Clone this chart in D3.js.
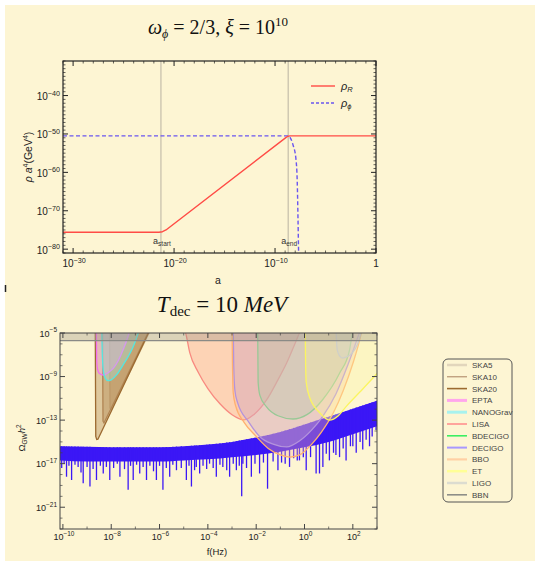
<!DOCTYPE html>
<html><head><meta charset="utf-8">
<script src="https://cdn.jsdelivr.net/npm/d3@7"></script>
<style>body{margin:0;background:#fff}svg{display:block}</style>
</head><body>
<svg id="c" width="535" height="561"></svg>
<script>
// ================= DATA (log10 values) =================
// Panel 1: rho a^4 vs a
const aMajorExp = [-30, -20, -10, 0];
const rhoMajorExp = [-80, -70, -60, -50, -40];
const rhoR_logA = [-31, -21.5, -21.15, -20.8, -8.9, -8.72, -8.5, 0];
const rhoR_logV = [-75.6, -75.6, -75.45, -75.0, -50.9, -50.6, -50.5, -50.5];
const rhoPhi_logA = [-31, -8.7, -8.45, -8.2, -7.93, -7.8, -7.73, -7.66];
const rhoPhi_logV = [-50.5, -50.5, -51.2, -53.0, -56.5, -62.5, -71.4, -82];
const aStartLog = -21.3, aEndLog = -8.7;

// Panel 2: Omega_GW h^2 vs f
const fMajorExp = [-10, -8, -6, -4, -2, 0, 2];
const omegaMajorExp = [-21, -17, -13, -9, -5];
const bbnLevel = -5.7;
const detectorNames = ["SKA5","SKA10","SKA20","EPTA","NANOGrav","LISA","BDECIGO","DECIGO","BBO","ET","LIGO","BBN"];
const ska5_f = [-8.07, -8.06, -8.05, -8.0, -6.43, -6.3];
const ska5_o = [-4.5, -8, -11.9, -12.06, -5, -4.4];
const ska10_f = [-8.36, -8.35, -8.34, -8.3, -6.48, -6.35];
const ska10_o = [-4.5, -9, -13.1, -13.26, -5, -4.4];
const ska20_f = [-8.66, -8.65, -8.64, -8.6, -8.55, -6.35];
const ska20_o = [-4.5, -10, -14.5, -14.78, -14.75, -4.5];
const epta_f = [-8.62, -8.61, -8.6, -8.57, -8.5, -8.33, -8.1, -7.9, -7.7, -7.5, -7.3, -7.2];
const epta_o = [-4.5, -6, -7.5, -8.3, -8.7, -8.87, -8.6, -8.2, -7.5, -6.5, -5.3, -4.5];
const nano_f = [-8.39, -8.38, -8.36, -8.32, -8.25, -8.13, -8.0, -7.78, -7.5, -7.3, -7.1, -6.95, -6.8];
const nano_o = [-4.5, -6, -7.5, -8.6, -9.15, -9.38, -9.3, -8.85, -7.9, -7.17, -6.3, -5.45, -4.5];
const lisa_f = [-5.0, -4.92, -4.75, -4.4, -4.0, -3.5, -3.0, -2.5, -2.1, -1.57, -1.1, -0.74, -0.4, -0.21, -0.1];
const lisa_o = [-4.5, -5, -6.8, -8.6, -10.1, -11.5, -12.5, -12.98, -12.5, -11.15, -9.3, -7.75, -6, -5, -4.5];
const bdecigo_f = [-1.94, -1.93, -1.92, -1.85, -1.58, -1.1, -0.48, 0.1, 0.74, 1.45, 1.86, 1.98, 2.03];
const bdecigo_o = [-4.5, -7, -9.5, -10.7, -11.76, -12.6, -12.9, -12.5, -11.15, -8.7, -6.6, -5, -4.5];
const decigo_f = [-2.95, -2.93, -2.88, -2.77, -2.3, -1.86, -1.3, -0.74, -0.2, 0.3, 0.74, 1.3, 1.8, 2.27, 2.35];
const decigo_o = [-4.5, -8, -10.3, -11.4, -13.2, -14.5, -15.2, -15.46, -14.9, -13.9, -12.7, -10.6, -7.9, -5, -4.5];
const bbo_f = [-3.0, -2.98, -2.95, -2.85, -2.5, -2.0, -1.5, -1.0, -0.6, -0.2, 0.3, 0.7, 1.2, 1.6, 2.0, 2.3, 2.4];
const bbo_o = [-4.5, -8, -10.5, -11.7, -13.2, -14.5, -15.6, -16.2, -16.4, -16.2, -15.2, -14.1, -12.3, -10.3, -7.8, -5.5, -4.5];
const et_f = [0.03, 0.04, 0.07, 0.21, 0.62, 1.03, 1.4, 1.72, 2.3, 2.89, 3.3];
const et_o = [-4.5, -7, -9.5, -10.9, -12.3, -13.0, -12.6, -11.76, -10.4, -9.0, -8.0];
const ligo_f = [1.3, 1.31, 1.35, 1.45, 1.57, 1.75, 1.98, 2.2, 2.34, 2.4];
const ligo_o = [-4.5, -5, -6.5, -7.1, -7.3, -7.2, -6.83, -6, -5, -4.5];

// GW spectrum: upper envelope, lower edge of the dense band, and deep dips
const spec_f = [-10.2, -9, -8, -7, -6, -5, -4, -3, -2, -1, 0, 1, 2, 3.1];
const spec_top = [-15.4, -15.45, -15.5, -15.5, -15.5, -15.4, -15.25, -15.0, -14.6, -14.1, -13.4, -12.7, -11.95, -11.15];
const spec_band = [-16.7, -16.8, -16.8, -16.8, -16.8, -16.7, -16.6, -16.4, -16.2, -15.9, -15.5, -15.0, -14.3, -13.5];
const dip_f = [-10.05,-9.95,-9.85,-9.75,-9.64,-9.5,-9.37,-9.25,-9.16,-9.0,-8.88,-8.75,-8.61,-8.45,-8.33,-8.2,-8.06,-7.9,-7.75,-7.64,-7.45,-7.3,-7.2,-7.09,-6.95,-6.82,-6.68,-6.54,-6.4,-6.25,-6.13,-6.0,-5.86,-5.72,-5.58,-5.45,-5.3,-5.1,-4.89,-4.78,-4.68,-4.55,-4.48,-4.34,-4.2,-4.05,-3.93,-3.78,-3.65,-3.5,-3.38,-3.22,-3.1,-2.95,-2.82,-2.7,-2.6,-2.55,-2.4,-2.2,-2.05,-1.86,-1.7,-1.53,-1.3,-1.1,-0.95,-0.8,-0.62,-0.45,-0.3,-0.21,-0.05,0.07,0.25,0.48,0.62,0.76,0.9,1.03,1.2,1.3,1.45,1.6,1.72,1.9,2.0,2.14,2.3,2.41,2.55,2.69,2.8,2.96];
const dip_o = [-17.4,-17.0,-18.2,-17.2,-18.5,-17.1,-17.3,-17.8,-18.8,-17.3,-19.1,-17.5,-18.5,-17.2,-17.9,-17.3,-18.5,-17.4,-17.0,-18.2,-17.5,-19.4,-17.2,-18.5,-17.1,-17.9,-17.3,-18.5,-17.2,-17.7,-18.5,-17.2,-19.4,-17.4,-18.2,-17.1,-17.6,-17.4,-18.5,-17.2,-19.1,-17.6,-17.3,-17.9,-17.2,-17.5,-17.0,-17.4,-18.2,-17.1,-17.3,-17.6,-18.2,-17.0,-17.6,-17.2,-20.0,-17.0,-17.4,-18.2,-17.0,-17.9,-16.9,-19.3,-16.8,-17.6,-16.9,-17.0,-17.3,-16.5,-16.7,-16.7,-16.4,-17.6,-16.4,-17.9,-17.9,-17.3,-16.1,-16.7,-16.0,-16.2,-16.4,-15.6,-16.7,-15.4,-15.4,-16.0,-15.0,-15.7,-14.8,-15.4,-14.5,-13.9];

// ================= DRAWING =================
const P = v => Math.pow(10, v);
const svg = d3.select('#c');
const BG = '#fdf5d3';
const SANS = "'Liberation Sans', Arial, sans-serif";
const SERIF = "'Liberation Serif', 'Times New Roman', serif";
svg.append('rect').attr('width', 535).attr('height', 561).attr('fill', BG);
svg.append('rect').attr('width', 535).attr('height', 5).attr('fill', '#fff');
svg.append('rect').attr('width', 5).attr('height', 561).attr('fill', '#fff');
svg.append('line').attr('x1', 5.5).attr('x2', 5.5).attr('y1', 285).attr('y2', 292).attr('stroke', '#222').attr('stroke-width', 1.5);

function expLabel(g, x, y, e, anchor, fs, plainOne) {
  const t = g.append('text').attr('x', x).attr('y', y).attr('text-anchor', anchor)
    .attr('font-size', fs).attr('font-family', SANS).attr('fill', '#222');
  if (e === 0 && plainOne) { t.text('1'); return; }
  t.append('tspan').text('10');
  t.append('tspan').attr('font-size', fs * 0.72).attr('dy', -fs * 0.45).text(e < 0 ? '\u2212' + (-e) : String(e));
}
function frame(g, xs, ys, xMaj, xMin, yMaj, yMin, col, sw) {
  const [x0, x1] = xs.range(), [y0, y1] = ys.range(); // y0 bottom, y1 top
  const tk = g.append('g').attr('stroke', col);
  xMaj.forEach(e => { const x = xs(P(e));
    tk.append('line').attr('x1', x).attr('x2', x).attr('y1', y0).attr('y2', y0 - 5).attr('stroke-width', 1);
    tk.append('line').attr('x1', x).attr('x2', x).attr('y1', y1).attr('y2', y1 + 5).attr('stroke-width', 1); });
  xMin.forEach(e => { const x = xs(P(e));
    tk.append('line').attr('x1', x).attr('x2', x).attr('y1', y0).attr('y2', y0 - 2.5).attr('stroke-width', 0.7);
    tk.append('line').attr('x1', x).attr('x2', x).attr('y1', y1).attr('y2', y1 + 2.5).attr('stroke-width', 0.7); });
  yMaj.forEach(e => { const y = ys(P(e));
    tk.append('line').attr('x1', x0).attr('x2', x0 + 5).attr('y1', y).attr('y2', y).attr('stroke-width', 1);
    tk.append('line').attr('x1', x1).attr('x2', x1 - 5).attr('y1', y).attr('y2', y).attr('stroke-width', 1); });
  yMin.forEach(e => { const y = ys(P(e));
    tk.append('line').attr('x1', x0).attr('x2', x0 + 2.5).attr('y1', y).attr('y2', y).attr('stroke-width', 0.7);
    tk.append('line').attr('x1', x1).attr('x2', x1 - 2.5).attr('y1', y).attr('y2', y).attr('stroke-width', 0.7); });
  g.append('rect').attr('x', x0).attr('y', y1).attr('width', x1 - x0).attr('height', y0 - y1)
    .attr('fill', 'none').attr('stroke', col).attr('stroke-width', sw);
}
const range = (a, b) => d3.range(a, b + 1);

// ---------- Panel 1 ----------
const g1 = svg.append('g');
const x1 = d3.scaleLog().domain([1e-31, 1]).range([63, 376]);
const y1 = d3.scaleLog().domain([1e-81, 1e-31]).range([253, 61]);
g1.append('clipPath').attr('id', 'cp1').append('rect').attr('x', 63).attr('y', 61).attr('width', 313).attr('height', 192);

const t1 = g1.append('text').attr('x', 218).attr('y', 34).attr('text-anchor', 'middle')
  .attr('font-family', SERIF).attr('font-size', 20).attr('fill', '#111');
t1.append('tspan').attr('font-style', 'italic').text('ω');
t1.append('tspan').attr('font-style', 'italic').attr('font-size', 12).attr('dy', 4).text('ϕ');
t1.append('tspan').attr('dy', -4).text(' = 2/3, ');
t1.append('tspan').attr('font-style', 'italic').text('ξ');
t1.append('tspan').text(' = 10');
t1.append('tspan').attr('font-size', 13).attr('dy', -8).text('10');

[aStartLog, aEndLog].forEach(v => {
  g1.append('line').attr('x1', x1(P(v))).attr('x2', x1(P(v))).attr('y1', 61).attr('y2', 253)
    .attr('stroke', '#b9b2a2').attr('stroke-width', 1);
});
[[aStartLog, 'start'], [aEndLog, 'end']].forEach(([v, s]) => {
  const t = g1.append('text').attr('x', x1(P(v)) + 1).attr('y', 244).attr('text-anchor', 'middle')
    .attr('font-family', SANS).attr('font-size', 9).attr('fill', '#333');
  t.append('tspan').text('a');
  t.append('tspan').attr('font-size', 6.5).attr('dy', 1.5).text(s);
});

const lineMono = d3.line().x(d => x1(P(d[0]))).y(d => y1(P(d[1]))).curve(d3.curveMonotoneX);
const lineLin = d3.line().x(d => x1(P(d[0]))).y(d => y1(P(d[1])));
g1.append('path').attr('clip-path', 'url(#cp1)')
  .attr('d', lineMono(rhoPhi_logA.map((a, i) => [a, rhoPhi_logV[i]])))
  .attr('fill', 'none').attr('stroke', '#6a55f0').attr('stroke-width', 1.4).attr('stroke-dasharray', '4,2.5');
g1.append('path').attr('clip-path', 'url(#cp1)')
  .attr('d', lineLin(rhoR_logA.map((a, i) => [a, rhoR_logV[i]])))
  .attr('fill', 'none').attr('stroke', '#ff4b45').attr('stroke-width', 1.4).attr('stroke-linejoin', 'round');

frame(g1, x1, y1, aMajorExp, range(-31, 0).filter(e => !aMajorExp.includes(e)),
  rhoMajorExp, range(-81, -31).filter(e => !rhoMajorExp.includes(e)), '#222', 1.2);
aMajorExp.forEach(e => expLabel(g1, x1(P(e)) + (e === 0 ? 0 : 1), 267, e, 'middle', 10, true));
rhoMajorExp.forEach(e => expLabel(g1, 60, y1(P(e)) + 4.5, e, 'end', 10, false));

// legend panel 1
g1.append('line').attr('x1', 311).attr('x2', 335).attr('y1', 86).attr('y2', 86).attr('stroke', '#ff4b45').attr('stroke-width', 1.4);
g1.append('line').attr('x1', 311).attr('x2', 335).attr('y1', 103).attr('y2', 103).attr('stroke', '#6a55f0').attr('stroke-width', 1.4).attr('stroke-dasharray', '3,2');
[['R', 90], ['ϕ', 107]].forEach(([s, y]) => {
  const t = g1.append('text').attr('x', 341).attr('y', y).attr('font-family', SANS).attr('font-size', 11).attr('font-style', 'italic').attr('fill', '#222');
  t.append('tspan').text('ρ');
  t.append('tspan').attr('font-size', 7.5).attr('dy', 2).text(s);
});
// axis labels panel 1
const yl1 = g1.append('text').attr('transform', 'translate(32,157) rotate(-90)').attr('text-anchor', 'middle')
  .attr('font-family', SANS).attr('font-size', 10.5).attr('fill', '#222');
yl1.append('tspan').attr('font-style', 'italic').text('ρ a');
yl1.append('tspan').attr('font-size', 7).attr('dy', -4).text('4');
yl1.append('tspan').attr('dy', 4).text('(GeV');
yl1.append('tspan').attr('font-size', 7).attr('dy', -4).text('4');
yl1.append('tspan').attr('dy', 4).text(')');
g1.append('text').attr('x', 218).attr('y', 284).attr('text-anchor', 'middle').attr('font-family', SANS)
  .attr('font-size', 10.5).attr('fill', '#222').text('a');

// ---------- Panel 2 ----------
const g2 = svg.append('g');
const x2 = d3.scaleLog().domain([P(-10.12), P(3)]).range([60, 377]);
const y2 = d3.scaleLog().domain([1e-23, 1e-5]).range([529, 333]);
g2.append('clipPath').attr('id', 'cp2').append('rect').attr('x', 60).attr('y', 333).attr('width', 317).attr('height', 196);

const t2 = g2.append('text').attr('x', 222).attr('y', 312).attr('text-anchor', 'middle')
  .attr('font-family', SERIF).attr('font-size', 23).attr('fill', '#111');
t2.append('tspan').attr('font-style', 'italic').text('T');
t2.append('tspan').attr('font-size', 15).attr('dy', 4).text('dec');
t2.append('tspan').attr('dy', -4).text(' = 10 ');
t2.append('tspan').attr('font-style', 'italic').text('MeV');

const plot2 = g2.append('g').attr('clip-path', 'url(#cp2)');
// spectrum
const topInterp = d3.scaleLinear().domain(spec_f).range(spec_top);
const specArea = d3.area().x(d => x2(P(d[0]))).y0(d => y2(P(d[2]))).y1(d => y2(P(d[1]))).curve(d3.curveMonotoneX);
const SPEC = '#3b17f6';
plot2.append('path').attr('d', specArea(spec_f.map((f, i) => [f, spec_top[i], spec_band[i]]))).attr('fill', SPEC);
plot2.append('g').selectAll('line').data(dip_f.map((f, i) => [f, dip_o[i]])).join('line')
  .attr('x1', d => x2(P(d[0]))).attr('x2', d => x2(P(d[0])))
  .attr('y1', d => y2(P(topInterp(d[0])))).attr('y2', d => y2(P(d[1])))
  .attr('stroke', SPEC).attr('stroke-width', 1.3);

// detector sensitivity regions
const detectors = [
  { f: ska5_f, o: ska5_o, stroke: '#d8c49e', fill: '#c9a878', lin: true },
  { f: ska10_f, o: ska10_o, stroke: '#b89064', fill: '#b08450', lin: true },
  { f: ska20_f, o: ska20_o, stroke: '#9c6a30', fill: '#a06c30', lin: true },
  { f: epta_f, o: epta_o, stroke: '#f26ef0', fill: '#f59ae8' },
  { f: nano_f, o: nano_o, stroke: '#55e6e0', fill: '#9eeeee' },
  { f: lisa_f, o: lisa_o, stroke: '#f88a80', fill: '#ff8f78' },
  { f: bdecigo_f, o: bdecigo_o, stroke: '#48ec6c', fill: '#7ee890' },
  { f: decigo_f, o: decigo_o, stroke: '#8f80ff', fill: '#a898f0' },
  { f: bbo_f, o: bbo_o, stroke: '#ffb070', fill: '#ffb894' },
  { f: et_f, o: et_o, stroke: '#fbf560', fill: '#fbf7a0' },
  { f: ligo_f, o: ligo_o, stroke: '#cfcfc8', fill: '#d4d4cc' }
];
detectors.forEach(d => {
  const pts = d.f.map((f, i) => [f, d.o[i]]);
  const cv = d.lin ? d3.curveLinear : d3.curveMonotoneX;
  const ar = d3.area().x(p => x2(P(p[0]))).y0(y2(P(-4))).y1(p => y2(P(p[1]))).curve(cv);
  const ln = d3.line().x(p => x2(P(p[0]))).y(p => y2(P(p[1]))).curve(cv);
  plot2.append('path').attr('d', ar(pts)).attr('fill', d.fill).attr('fill-opacity', 0.33);
  plot2.append('path').attr('d', ln(pts)).attr('fill', 'none').attr('stroke', d.stroke).attr('stroke-width', 1.3);
});
// BBN band
plot2.append('rect').attr('x', 60).attr('width', 317).attr('y', 333).attr('height', y2(P(bbnLevel)) - 333)
  .attr('fill', '#9a9486').attr('fill-opacity', 0.35);
plot2.append('line').attr('x1', 60).attr('x2', 377).attr('y1', y2(P(bbnLevel))).attr('y2', y2(P(bbnLevel)))
  .attr('stroke', '#8a8a86').attr('stroke-width', 1.2);

frame(g2, x2, y2, fMajorExp, range(-9, 3).filter(e => !fMajorExp.includes(e)),
  omegaMajorExp, range(-23, -5).filter(e => !omegaMajorExp.includes(e)), '#444', 1);
fMajorExp.forEach(e => expLabel(g2, x2(P(e)) + 1, 540, e, 'middle', 9, false));
omegaMajorExp.forEach(e => expLabel(g2, 57, y2(P(e)) + 3.5, e, 'end', 9, false));

const yl2 = g2.append('text').attr('transform', 'translate(25,438) rotate(-90)').attr('text-anchor', 'middle')
  .attr('font-family', SANS).attr('font-size', 9.5).attr('fill', '#222');
yl2.append('tspan').text('Ω');
yl2.append('tspan').attr('font-size', 6.5).attr('dy', 2).text('GW');
yl2.append('tspan').attr('dy', -2).attr('font-style', 'italic').text('h');
yl2.append('tspan').attr('font-size', 6.5).attr('dy', -4).text('2');
g2.append('text').attr('x', 217).attr('y', 555).attr('text-anchor', 'middle').attr('font-family', SANS)
  .attr('font-size', 9.5).attr('fill', '#222').text('f(Hz)');

// legend panel 2
const legendColors = ['#e2d6bc', '#a88060', '#9c6a30', '#ffa6ec', '#a8f2ee', '#ffa49c', '#3cee62', '#a898ff', '#ffd0a4', '#ffff96', '#dcdcd0', '#8e8e88'];
const legendWidths = [2.5, 1, 1.6, 3, 3, 2, 1.6, 2, 2.2, 2.5, 2.5, 1.6];
const lg = g2.append('g');
lg.append('rect').attr('x', 443).attr('y', 359).attr('width', 69).attr('height', 143).attr('rx', 5)
  .attr('fill', 'none').attr('stroke', '#555').attr('stroke-width', 1);
detectorNames.forEach((n, i) => {
  const y = 365 + i * 11.8;
  lg.append('line').attr('x1', 447).attr('x2', 467).attr('y1', y).attr('y2', y)
    .attr('stroke', legendColors[i]).attr('stroke-width', legendWidths[i]);
  lg.append('text').attr('x', 472).attr('y', y + 3).attr('font-family', SANS).attr('font-size', 8)
    .attr('fill', '#444').text(n);
});
</script></body></html>
